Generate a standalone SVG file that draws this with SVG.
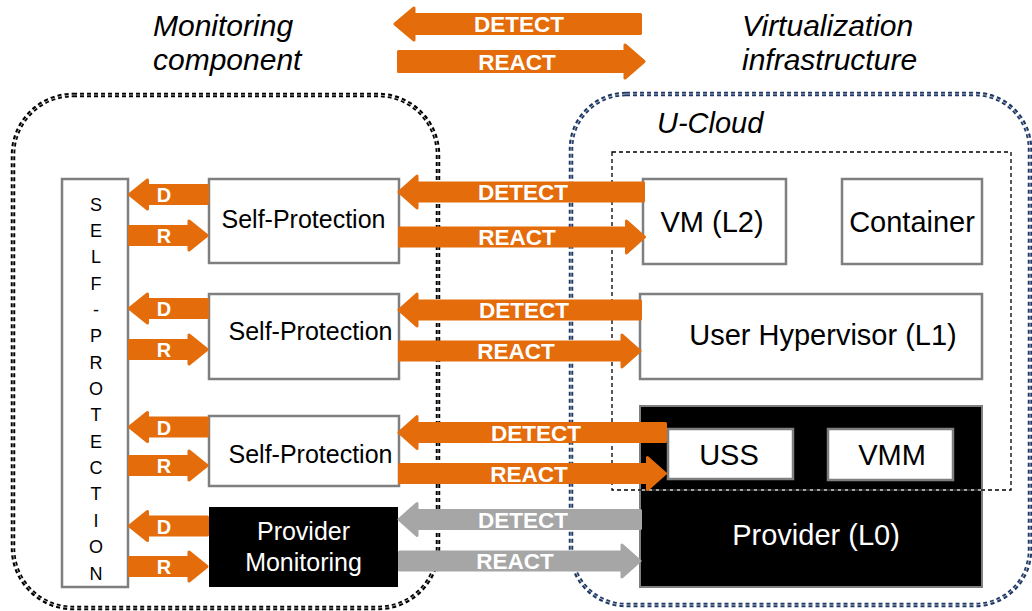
<svg xmlns="http://www.w3.org/2000/svg" xmlns:xlink="http://www.w3.org/1999/xlink" width="1032" height="611" viewBox="0 0 1032 611">
<style>
  text { font-family: "Liberation Sans", Arial, sans-serif; }
  .hdr { font-size: 30px; font-style: italic; fill: #000; }
  .box { fill: #fff; stroke: #7f7f7f; stroke-width: 2.5; }
  .blk { fill: #000; stroke: #7f7f7f; stroke-width: 2; }
  .lbl { font-size: 25px; fill: #000; text-anchor: middle; }
  .lbl29 { font-size: 29px; fill: #000; text-anchor: middle; }
  .wht { fill: #fff; }
  .orange { fill: #E46C0A; stroke: #E46C0A; stroke-width: 3; stroke-linejoin: round; }
  .grey { fill: #A6A6A6; stroke: #A6A6A6; stroke-width: 3; stroke-linejoin: round; }
  .atxt { font-size: 22.5px; font-weight: bold; fill: #fff; text-anchor: middle; }
  .stxt { font-size: 20px; font-weight: bold; fill: #fff; text-anchor: middle; }
  .dotk { fill: none; stroke: #000; stroke-width: 4.5; stroke-dasharray: 4 3; }
  .dotn { fill: none; stroke: #1F3864; stroke-width: 4.5; stroke-dasharray: 4 3; }
  .mid { fill: none; stroke: #fff; stroke-width: 0.6; }
</style>
<defs>
  <path id="sd" d="M129.5 0 L147.5 -14.5 L147.5 -9 L207.5 -9 L207.5 9 L147.5 9 L147.5 14.5 Z"/>
  <path id="sr" d="M207 0 L189 -14.5 L189 -9 L129.5 -9 L129.5 9 L189 9 L189 14.5 Z"/>
</defs>

<!-- headers -->
<g id="header-monitoring">
  <text class="hdr" x="153" y="36">Monitoring</text>
  <text class="hdr" x="153" y="70">component</text>
</g>
<g id="header-virtualization">
  <text class="hdr" x="742" y="36">Virtualization</text>
  <text class="hdr" x="742" y="70">infrastructure</text>
</g>
<g id="legend">
  <path class="orange" d="M395 24 L414 8 L414 14.5 L640.5 14.5 L640.5 33.5 L414 33.5 L414 40 Z"/>
  <text class="atxt" x="519" y="32">DETECT</text>
  <path class="orange" d="M644 61.5 L625 45 L625 51.5 L398.5 51.5 L398.5 71.5 L625 71.5 L625 78 Z"/>
  <text class="atxt" x="517" y="69.5">REACT</text>
</g>

<!-- containers -->
<g id="monitoring-component">
  <rect class="dotk" x="13" y="95" width="425" height="513" rx="60"/>
  <rect class="mid" x="13" y="95" width="425" height="513" rx="60"/>
</g>
<g id="u-cloud">
  <rect class="dotn" x="571" y="94" width="459" height="511" rx="55"/>
  <rect class="mid" x="571" y="94" width="459" height="511" rx="55"/>
  <text x="657" y="133" style="font-size:29px;font-style:italic">U-Cloud</text>
</g>

<!-- left nodes -->
<g id="self-protection-column">
  <rect class="box" x="62" y="179" width="66" height="408"/>
  <text x="96" y="210.5" style="font-size:18px;text-anchor:middle">S<tspan x="96" dy="26.36">E</tspan><tspan x="96" dy="26.36">L</tspan><tspan x="96" dy="26.36">F</tspan><tspan x="96" dy="26.36">-</tspan><tspan x="96" dy="26.36">P</tspan><tspan x="96" dy="26.36">R</tspan><tspan x="96" dy="26.36">O</tspan><tspan x="96" dy="26.36">T</tspan><tspan x="96" dy="26.36">E</tspan><tspan x="96" dy="26.36">C</tspan><tspan x="96" dy="26.36">T</tspan><tspan x="96" dy="26.36">I</tspan><tspan x="96" dy="26.36">O</tspan><tspan x="96" dy="26.36">N</tspan></text>
</g>
<g id="self-protection-1">
  <rect class="box" x="209" y="179" width="190" height="84"/>
  <text class="lbl" x="303.5" y="228">Self-Protection</text>
</g>
<g id="self-protection-2">
  <rect class="box" x="209" y="294" width="190" height="85"/>
  <text class="lbl" x="310.5" y="340">Self-Protection</text>
</g>
<g id="self-protection-3">
  <rect class="box" x="209" y="416" width="190" height="70"/>
  <text class="lbl" x="310.5" y="463">Self-Protection</text>
</g>
<g id="provider-monitoring">
  <rect x="209" y="507" width="189" height="80" fill="#000"/>
  <text class="lbl wht" x="303.5" y="540">Provider</text>
  <text class="lbl wht" x="303.5" y="571">Monitoring</text>
</g>

<!-- right nodes -->
<g id="vm-l2">
  <rect class="box" x="643" y="179" width="143" height="85"/>
  <text class="lbl29" x="712" y="232">VM (L2)</text>
</g>
<g id="container">
  <rect class="box" x="842" y="179" width="140" height="85"/>
  <text class="lbl29" x="912" y="232">Container</text>
</g>
<g id="user-hypervisor">
  <rect class="box" x="640" y="294" width="342" height="85"/>
  <text class="lbl29" x="823" y="345">User Hypervisor (L1)</text>
</g>
<g id="provider-l0">
  <rect class="blk" x="640" y="406" width="342" height="181"/>
  <text class="lbl29 wht" x="816" y="545">Provider (L0)</text>
</g>
<g id="uss">
  <rect class="box" x="668" y="429" width="125" height="50"/>
  <text class="lbl29" x="729" y="465">USS</text>
</g>
<g id="vmm">
  <rect class="box" x="828" y="429" width="125" height="51"/>
  <text class="lbl29" x="892" y="465">VMM</text>
</g>
<g id="user-space-boundary">
  <rect x="612" y="152" width="399" height="338" fill="none" stroke="#fff" stroke-width="1.3"/>
  <rect x="612" y="152" width="399" height="338" fill="none" stroke="#000" stroke-width="1.3" stroke-dasharray="4 3"/>
</g>

<!-- connectors -->
<g id="connectors">
  <use href="#sd" class="orange" y="194.5"/><text class="stxt" x="164" y="202">D</text>
  <use href="#sr" class="orange" y="235.5"/><text class="stxt" x="164" y="243">R</text>
  <use href="#sd" class="orange" y="308.5"/><text class="stxt" x="164" y="316">D</text>
  <use href="#sr" class="orange" y="349.5"/><text class="stxt" x="164" y="357">R</text>
  <use href="#sd" class="orange" y="427"/><text class="stxt" x="164" y="434.5">D</text>
  <use href="#sr" class="orange" y="465.5"/><text class="stxt" x="164" y="473">R</text>
  <use href="#sd" class="orange" y="526"/><text class="stxt" x="164" y="533.5">D</text>
  <use href="#sr" class="orange" y="566.5"/><text class="stxt" x="164" y="574">R</text>

  <path class="orange" d="M399 192 L417 176 L417 183 L643.5 183 L643.5 201 L417 201 L417 208 Z"/>
  <text class="atxt" x="523" y="200">DETECT</text>
  <path class="orange" d="M644.5 237 L626.5 221 L626.5 228 L399.5 228 L399.5 246 L626.5 246 L626.5 253 Z"/>
  <text class="atxt" x="517" y="245">REACT</text>

  <path class="orange" d="M399 310 L417 294 L417 301 L640.5 301 L640.5 319 L417 319 L417 326 Z"/>
  <text class="atxt" x="524" y="318">DETECT</text>
  <path class="orange" d="M640 351 L622 335 L622 342 L399.5 342 L399.5 360 L622 360 L622 367 Z"/>
  <text class="atxt" x="516" y="359">REACT</text>

  <path class="orange" d="M399 432.5 L417 416.5 L417 423.5 L665.5 423.5 L665.5 441.5 L417 441.5 L417 448.5 Z"/>
  <text class="atxt" x="536" y="440.5">DETECT</text>
  <path class="orange" d="M665.5 473.5 L647.5 457.5 L647.5 464.5 L399.5 464.5 L399.5 482.5 L647.5 482.5 L647.5 489.5 Z"/>
  <text class="atxt" x="529" y="481.5">REACT</text>

  <path class="grey" d="M399 519.5 L417 503.5 L417 510.5 L640.5 510.5 L640.5 528.5 L417 528.5 L417 535.5 Z"/>
  <text class="atxt" x="523" y="527.5">DETECT</text>
  <path class="grey" d="M640 561 L622 545 L622 552 L399.5 552 L399.5 570 L622 570 L622 577 Z"/>
  <text class="atxt" x="515" y="569">REACT</text>
</g>
</svg>
